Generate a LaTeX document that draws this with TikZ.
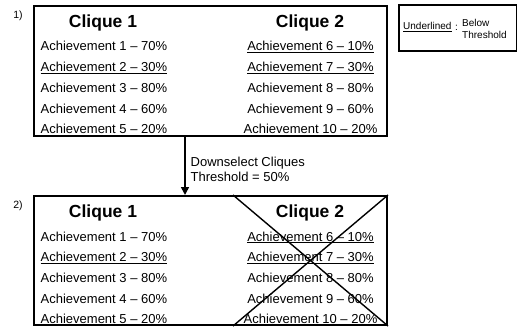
\documentclass[tikz,border=0pt]{standalone}
\usepackage{fontspec}
\setmainfont{Liberation Sans}
\newcommand{\undl}[1]{\setbox0\hbox{#1}\rlap{\rule[-1.8pt]{\wd0}{0.9pt}}\box0}
\usetikzlibrary{arrows.meta}
\tikzset{
  box/.style={draw, line width=2pt, inner sep=0pt, anchor=north west},
  title/.style={anchor=base, inner sep=0pt, font=\fontsize{17.5}{20}\selectfont\bfseries},
  achl/.style={anchor=base west, inner sep=0pt, font=\fontsize{13}{15}\selectfont},
  achc/.style={anchor=base, inner sep=0pt, font=\fontsize{13}{15}\selectfont},
  step label/.style={inner sep=0pt, font=\fontsize{10.5}{12}\selectfont},
  small/.style={anchor=base west, inner sep=0pt, font=\fontsize{10}{12}\selectfont},
}
\begin{document}
\begin{tikzpicture}[x=1pt, y=-1pt]
	\useasboundingbox (0,0) rectangle (518,331);
	% legend
	\node[box, line width=1.8pt, minimum width=117.5pt, minimum height=46.5pt] (legend) at (398,4) {};
	\node[small] (und) at (403,30) {\undl{Underlined}};
	\node[small] (colon) at (455,31) {:};
	\node[small] (below) at (462,26.7) {Below};
	\node[small] (thr) at (462,38.3) {Threshold};
	% step 1
	\node[step label] (one) at (18,16) {1)};
	\node[box, minimum width=353pt, minimum height=130pt] (top) at (33,5) {};
	\node[title] (t1) at (103,27.3) {Clique 1};
	\node[title] (t2) at (310,27.3) {Clique 2};
	\node[achl] (a1) at (40.5,51) {Achievement 1 -- 70\%};
	\node[achl] (a2) at (40.5,71.7) {\undl{Achievement 2 -- 30\%}};
	\node[achl] (a3) at (40.5,92.4) {Achievement 3 -- 80\%};
	\node[achl] (a4) at (40.5,113.1) {Achievement 4 -- 60\%};
	\node[achl] (a5) at (40.5,133.8) {\undl{Achievement 5 -- 20\%}};
	\node[achc] (a6) at (310.5,51) {\undl{Achievement 6 -- 10\%}};
	\node[achc] (a7) at (310.5,71.7) {\undl{Achievement 7 -- 30\%}};
	\node[achc] (a8) at (310.5,92.4) {Achievement 8 -- 80\%};
	\node[achc] (a9) at (310.5,113.1) {Achievement 9 -- 60\%};
	\node[achc] (a10) at (310.5,133.8) {\undl{Achievement 10 -- 20\%}};
	% downselect
	\node[achl] (dsel) at (190.5,166.5) {Downselect Cliques};
	\node[achl] (thresh) at (190.5,181.5) {Threshold = 50\%};
	% step 2
	\node[step label] (two) at (18,206) {2)};
	\node[box, minimum width=353pt, minimum height=129pt] (bottom) at (33,195) {};
	\node[title] (b1) at (103,217.3) {Clique 1};
	\node[title] (b2) at (310,217.3) {Clique 2};
	\node[achl] (c1) at (40.5,241) {Achievement 1 -- 70\%};
	\node[achl] (c2) at (40.5,261.7) {\undl{Achievement 2 -- 30\%}};
	\node[achl] (c3) at (40.5,282.4) {Achievement 3 -- 80\%};
	\node[achl] (c4) at (40.5,303.1) {Achievement 4 -- 60\%};
	\node[achl] (c5) at (40.5,323.8) {\undl{Achievement 5 -- 20\%}};
	\node[achc] (c6) at (310.5,241) {\undl{Achievement 6 -- 10\%}};
	\node[achc] (c7) at (310.5,261.7) {\undl{Achievement 7 -- 30\%}};
	\node[achc] (c8) at (310.5,282.4) {Achievement 8 -- 80\%};
	\node[achc] (c9) at (310.5,303.1) {Achievement 9 -- 60\%};
	\node[achc] (c10) at (310.5,323.8) {\undl{Achievement 10 -- 20\%}};
	% arrow and cross
	\coordinate (split) at (185,0);
	\draw[line width=1.6pt, -{Triangle[length=8pt,width=8pt]}] (split |- top.south) -- (split |- bottom.north);
	\coordinate (xleft) at (233,0);
	\draw[line width=1.4pt] (xleft |- bottom.north) -- (bottom.south east);
	\draw[line width=1.4pt] (bottom.north east) -- (xleft |- bottom.south);
\end{tikzpicture}
\end{document}
